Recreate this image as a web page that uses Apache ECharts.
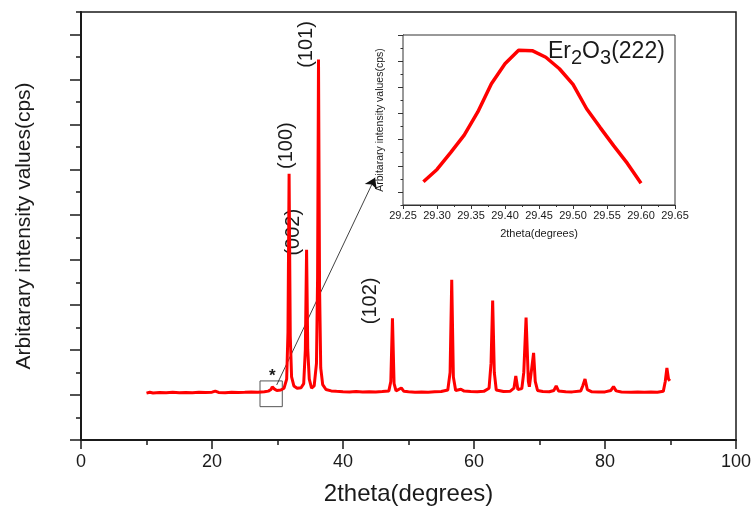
<!DOCTYPE html>
<html><head><meta charset="utf-8">
<script src="https://cdn.jsdelivr.net/npm/echarts@6/dist/echarts.min.js"></script>
<style>html,body{margin:0;padding:0;background:#fff}#c{width:751px;height:507px}</style>
</head><body><div id="c"></div>
<script>
const mainTheta = [10,10.5,11,12,13,14,15,16,17,18,19,20,20.5,21,22,23,24,25,26,27,28,28.6,29.0,29.2,29.36,29.55,29.9,30.5,31.0,31.4,31.6,31.77,31.95,32.15,32.5,33.0,33.6,34.0,34.25,34.44,34.62,34.85,35.2,35.6,35.95,36.12,36.26,36.42,36.6,36.9,37.4,38.2,39,40,41,42,43,44,45,46,47.0,47.3,47.55,47.8,48.1,48.9,49.3,50,51,52,53,54,55,56.0,56.35,56.6,56.85,57.2,58.0,58.5,59.5,60.5,61.5,62.3,62.6,62.85,63.1,63.4,64.5,65.5,66.1,66.38,66.7,67.3,67.6,67.95,68.3,68.45,68.65,69.1,69.35,69.7,70.5,71.5,72.2,72.55,72.9,74,75,76.3,76.6,76.95,77.3,78,79,80,80.9,81.3,81.7,82.5,84,85,86,87,88,88.9,89.2,89.45,89.7,89.9];
const mainCounts = [1040,1060,1045,1055,1050,1060,1048,1056,1050,1058,1052,1062,1085,1055,1050,1060,1052,1058,1065,1060,1070,1085,1120,1180,1222,1130,1100,1110,1150,1350,2400,5911,2300,1400,1200,1150,1160,1250,2000,4222,2000,1350,1150,1200,1700,3600,8444,3400,1600,1230,1120,1090,1080,1070,1065,1075,1068,1072,1065,1075,1090,1300,2704,1250,1090,1155,1080,1070,1060,1068,1062,1070,1075,1110,1500,3556,1400,1100,1126,1085,1075,1070,1080,1150,1700,3096,1500,1110,1075,1080,1150,1422,1120,1140,1500,2718,1300,1180,1400,1933,1300,1100,1075,1070,1100,1200,1090,1070,1068,1090,1200,1355,1120,1070,1065,1068,1100,1185,1090,1065,1060,1068,1062,1065,1060,1080,1300,1600,1350,1311];
const insetTheta = [29.28,29.30,29.32,29.34,29.36,29.38,29.40,29.42,29.44,29.46,29.48,29.50,29.52,29.54,29.56,29.58,29.60];
const insetCounts = [0.89,1.36,2.00,2.67,3.56,4.64,5.40,5.92,5.90,5.65,5.21,4.61,3.68,2.96,2.26,1.59,0.83];
const peakLabels = ['(101)','(100)','(002)','(102)','*'];
const peakLabelTheta = [34.5,31.3,32.5,44.27,29.2];
const peakLabelCounts = [8778,6533,4611,3089,1420];
const zoomBox = [[27.33,740],[30.73,1311]];
const arrowLine = [[29.88,1222],[44.89,5822]];
const mainMajorY = [0,1000,2000,3000,4000,5000,6000,7000,8000,9000];
const insetMajorY = [0.5,1.5,2.5,3.5,4.5,5.5,6.5];

const FF = '"Liberation Sans", Arial, sans-serif';
const INK = '#1a1a1a';
const chart = echarts.init(document.getElementById('c'));
chart.setOption({
  animation:false,
  backgroundColor:'#fff',
  textStyle:{fontFamily:FF},
  title:{
    left:548, top:40, padding:0,
    text:'{a|Er}{s|2}{a|O}{s|3}{a|(222)}',
    textStyle:{fontWeight:'normal',rich:{
      a:{fontSize:23,fontWeight:'normal',fontFamily:FF,color:INK,lineHeight:26,verticalAlign:'top'},
      s:{fontSize:20,fontWeight:'normal',fontFamily:FF,color:INK,lineHeight:26,verticalAlign:'top',padding:[8,0,0,0]}
    }}
  },
  grid:[
    {left:81,top:12,right:15,bottom:67,show:true,borderColor:INK,borderWidth:1.5,outerBoundsMode:'none',containLabel:false},
    {left:403,top:35,width:272,height:170,show:true,borderColor:'#333',borderWidth:1,backgroundColor:'#fff',z:5,outerBoundsMode:'none',containLabel:false}
  ],
  xAxis:[
    {type:'value',gridIndex:0,min:0,max:100,interval:20,
     axisLine:{onZero:false,lineStyle:{color:INK,width:2}},
     axisTick:{length:9,lineStyle:{color:INK,width:1.5}},
     minorTick:{show:true,splitNumber:2,length:5,lineStyle:{color:INK,width:1.5}},
     splitLine:{show:false},
     axisLabel:{fontSize:18,color:INK,margin:13,fontFamily:FF},
     name:'2theta(degrees)',nameLocation:'middle',nameGap:42,
     nameTextStyle:{fontSize:24,color:INK,fontFamily:FF}},
    {type:'value',gridIndex:1,min:29.25,max:29.65,interval:0.05,
     axisLine:{onZero:false,lineStyle:{color:'#333',width:1}},
     axisTick:{length:4,lineStyle:{color:'#333',width:1}},
     minorTick:{show:true,splitNumber:2,length:2,lineStyle:{color:'#333',width:1}},
     splitLine:{show:false},
     axisLabel:{fontSize:11,color:INK,margin:5,fontFamily:FF,formatter:v=>v.toFixed(2)},
     name:'2theta(degrees)',nameLocation:'middle',nameGap:23,
     nameTextStyle:{fontSize:11,color:INK,fontFamily:FF}}
  ],
  yAxis:[
    {type:'value',gridIndex:0,min:0,max:9500,interval:500,position:'left',
     axisLine:{show:true,onZero:false,lineStyle:{color:INK,width:2}},
     axisTick:{show:true,length:5,lineStyle:{color:INK,width:1.5}},
     axisLabel:{show:false},splitLine:{show:false},
     name:'Arbitarary intensity values(cps)',nameLocation:'middle',nameGap:46,
     nameTextStyle:{fontSize:21,color:INK,fontFamily:FF}},
    {type:'value',gridIndex:0,min:0,max:9500,position:'left',offset:0,
     axisLine:{show:false},
     axisTick:{show:true,length:11,customValues:mainMajorY,lineStyle:{color:INK,width:1.5}},
     axisLabel:{show:false},splitLine:{show:false}},
    {type:'value',gridIndex:1,min:0,max:6.5,interval:0.5,position:'left',
     axisLine:{show:true,onZero:false,lineStyle:{color:'#333',width:1}},
     axisTick:{show:true,length:2.5,lineStyle:{color:'#333',width:1}},
     axisLabel:{show:false},splitLine:{show:false},
     name:'Arbitarary intensity values(cps)',nameLocation:'middle',nameGap:17,
     nameTextStyle:{fontSize:10.5,color:INK,fontFamily:FF}},
    {type:'value',gridIndex:1,min:0,max:6.5,position:'left',offset:0,
     axisLine:{show:false},
     axisTick:{show:true,length:5,customValues:insetMajorY,lineStyle:{color:'#333',width:1}},
     axisLabel:{show:false},splitLine:{show:false}}
  ],
  series:[
    {type:'line',xAxisIndex:0,yAxisIndex:0,showSymbol:false,symbol:'none',z:7,
     data:mainTheta.map((t,i)=>[t,mainCounts[i]]),
     lineStyle:{color:'#ff0000',width:3},
     markArea:{silent:true,itemStyle:{color:'rgba(0,0,0,0)',borderColor:'#555',borderWidth:1},
       data:[[{coord:zoomBox[0]},{coord:zoomBox[1]}]]},
     markLine:{silent:true,symbol:['none','arrow'],symbolSize:10,
       lineStyle:{color:'#111',width:0.8,type:'solid'},label:{show:false},
       data:[[{coord:arrowLine[0]},{coord:arrowLine[1]}]]},
     markPoint:{silent:true,symbol:'rect',symbolSize:1,itemStyle:{color:'rgba(0,0,0,0)'},
       data:peakLabels.map((t,i)=>({name:t,coord:[peakLabelTheta[i],peakLabelCounts[i]],
         label:{show:true,position:'inside',formatter:'{b}',rotate:t==='*'?0:90,
           fontSize:t==='*'?17:20,fontWeight:t==='*'?'bold':'normal',color:INK,fontFamily:FF}}))}
    },
    {type:'line',xAxisIndex:1,yAxisIndex:2,showSymbol:false,symbol:'none',z:8,
     data:insetTheta.map((t,i)=>[t,insetCounts[i]]),
     lineStyle:{color:'#ff0000',width:3.5}}
  ]
});
</script></body></html>
